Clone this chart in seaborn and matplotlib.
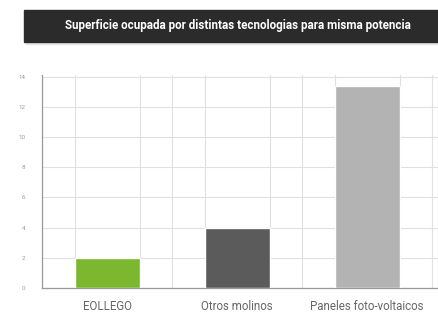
import matplotlib
matplotlib.use("Agg")
import matplotlib.pyplot as plt
import matplotlib.ticker as mtick
import seaborn as sns
import pandas as pd

# Daten
categorias = ["EOLLEGO", "Otros molinos", "Paneles foto-voltaicos"]
superficie = [2.0, 4.0, 13.4]
colores = ["#7cb82f", "#5b5b5b", "#b3b3b3"]
titulo = "Superficie ocupada por distintas tecnologias para misma potencia"

df = pd.DataFrame({"tecnologia": categorias, "superficie": superficie})

sns.set_style("white")
plt.rcParams["font.family"] = ["Roboto", "DejaVu Sans"]

fig = plt.figure(figsize=(4.39, 3.15), dpi=100)
ax = fig.add_axes([42 / 439, 27 / 315, 397 / 439, 213 / 315])

sns.barplot(data=df, x="tecnologia", y="superficie", hue="tecnologia",
            palette=colores, width=0.5, saturation=1, legend=False, ax=ax, zorder=3)

ax.set_xlim(-0.5, -0.5 + 397 / 130)
ax.set_ylim(0, 14.1)
ax.yaxis.set_major_locator(mtick.MultipleLocator(2))
ax.xaxis.set_minor_locator(mtick.MultipleLocator(0.25))
ax.grid(True, which="minor", axis="x", color="#e0e0e0", lw=0.8, zorder=0)
ax.grid(True, which="major", axis="y", color="#e0e0e0", lw=0.8, zorder=0)
ax.tick_params(axis="y", labelsize=4.5, labelcolor="#999999", length=0, pad=12)
ax.tick_params(axis="x", labelsize=8.3, labelcolor="#666666", length=0, pad=9)
ax.tick_params(which="minor", length=0)
ax.set_xlabel("")
ax.set_ylabel("")
for s in ["top", "right"]:
    ax.spines[s].set_visible(False)
for s in ["left", "bottom"]:
    ax.spines[s].set_color("#999999")
    ax.spines[s].set_linewidth(0.9)

# Titelbalken
fig.patches.append(plt.Rectangle((26 / 439, 271 / 315), 415 / 439, 32 / 315,
                                 transform=fig.transFigure, color="#e8e8e8", zorder=0))
fig.patches.append(plt.Rectangle((24 / 439, 273 / 315), 415 / 439, 32 / 315,
                                 transform=fig.transFigure, color="#2b2b2b", zorder=1))
fig.text(238 / 439, 289 / 315, titulo, color="white", fontsize=8.4, fontweight="bold",
         ha="center", va="center")

fig.savefig("out.png", dpi=100, facecolor="white")
